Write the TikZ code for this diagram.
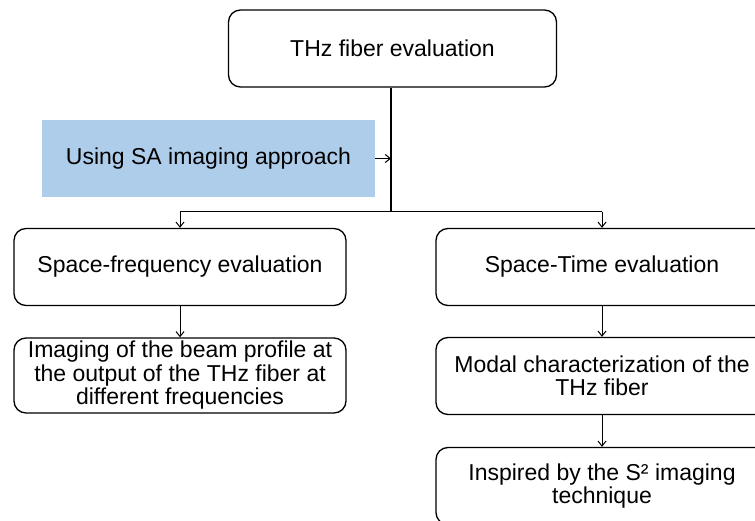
\documentclass[tikz,border=0pt]{standalone}
\usepackage{fontspec}
\setmainfont{Liberation Sans}
\usetikzlibrary{arrows.meta}
\definecolor{skyfill}{RGB}{174,205,234}
\tikzset{
  rbox/.style={draw=black, line width=1.3pt, rounded corners=12pt, inner sep=2pt,
    minimum width=332pt, minimum height=77pt, align=center,
    font=\fontsize{23}{23.5}\selectfont},
  conn/.style={line width=1pt, -{Straight Barb[length=5pt,width=8pt]}},
  plain/.style={line width=1.3pt}
}
\begin{document}
\begin{tikzpicture}[x=1pt,y=-1pt]
\useasboundingbox (0,0) rectangle (755,521);
\clip (0,0) rectangle (755,521);
\node[rbox, minimum width=328pt] (top) at (392.5,48.5) {THz fiber evaluation};
\node[fill=skyfill, minimum width=333pt, minimum height=77pt, inner sep=0pt,
  font=\fontsize{23}{24}\selectfont] (sa) at (208.5,158.5) {Using SA imaging approach};
\node[rbox] (sf) at (180,267) {Space-frequency evaluation};
\node[rbox, minimum height=75pt] (img) at (180,375.5) {Imaging of the beam profile at\\the output of the THz fiber at\\different frequencies};
\node[rbox] (st) at (602,267) {Space-Time evaluation};
\node[rbox] (modal) at (602,376) {Modal characterization of the\\THz fiber};
\node[rbox] (insp) at (602,486) {Inspired by the S² imaging\\technique};
\coordinate (junc) at (391,212);
\coordinate (lj) at (180,212);
\coordinate (rj) at (602,212);
\coordinate (mid) at (391,158.5);
\draw[plain] (top.south -| junc) -- (junc);
\draw[line width=1pt] (lj) -- (rj);
\draw[conn] (lj) -- (sf.north);
\draw[conn] (rj) -- (st.north);
\draw[conn] (sa.east) -- (mid);
\draw[conn] (sf.south) -- (img.north);
\draw[conn] (st.south) -- (modal.north);
\draw[conn] (modal.south) -- (insp.north);
\end{tikzpicture}
\end{document}
